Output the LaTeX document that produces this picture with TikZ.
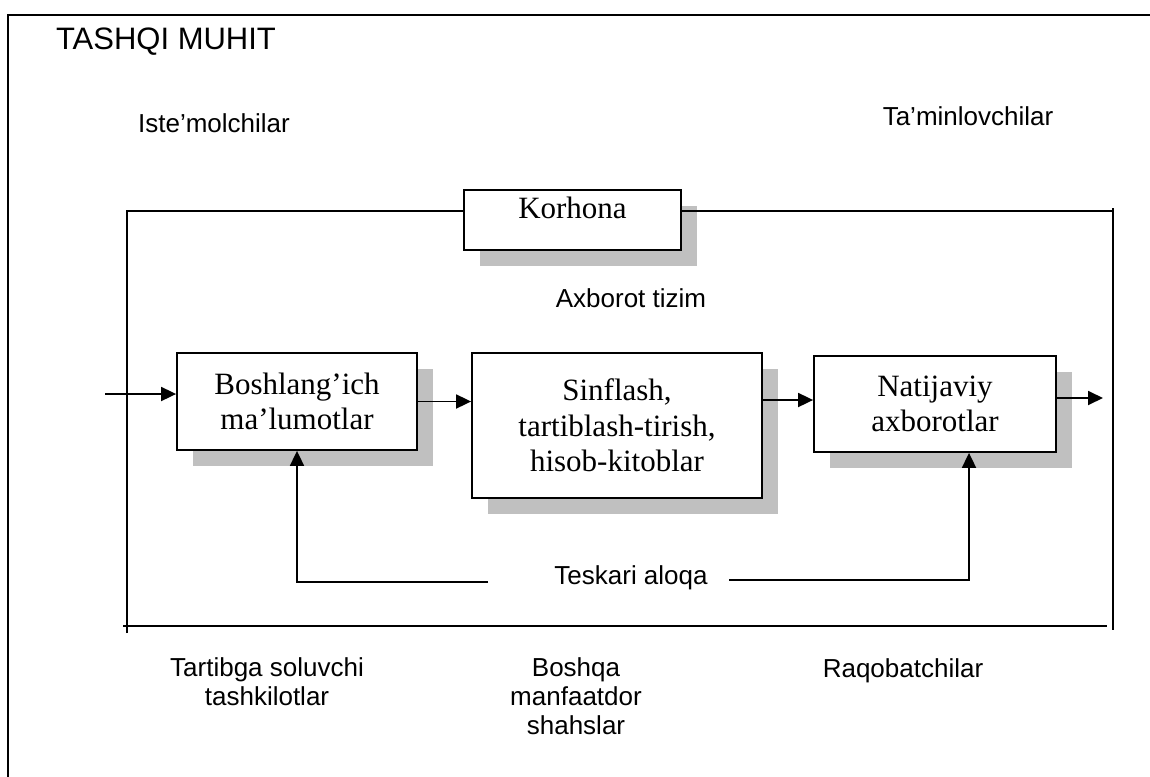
\documentclass[tikz,border=0pt]{standalone}
\usepackage{fontspec}
\setmainfont{Liberation Serif}
\setsansfont{Liberation Sans}
\usetikzlibrary{arrows.meta,shadows}
\definecolor{shadowgray}{RGB}{192,192,192}
\begin{document}
\begin{tikzpicture}[x=1pt,y=-1pt,
  frame/.style={line width=1.8pt},
  conn/.style={line width=1.8pt},
  arr/.style={conn,-{Triangle[length=15pt,width=14pt]}},
  stepbox/.style={draw, line width=1.8pt, fill=white, inner sep=0pt, align=center,
     font=\rmfamily\fontsize{31}{35.5}\selectfont,
     drop shadow={shadow xshift=16pt, shadow yshift=-16pt, fill=shadowgray, opacity=1}},
  lab/.style={font=\sffamily\fontsize{26}{29}\selectfont, align=center, inner sep=0pt},
]
\useasboundingbox (0,0) rectangle (1150,776);

% outer frame of the environment
\draw[frame] (8,790) -- (8,15) -- (1160,15);

% labels of the environment
\node[lab, font=\sffamily\fontsize{31}{36}\selectfont, anchor=base] (title) at (166,49) {TASHQI MUHIT};
\node[lab, anchor=base] (iste) at (214,132) {Iste’molchilar};
\node[lab, anchor=base] (tamin) at (968,125) {Ta’minlovchilar};
\node[lab, anchor=base] (axb) at (631,307) {Axborot tizim};
\node[lab, anchor=base] (tesk) at (631,584) {Teskari aloqa};
\node[lab] (tart) at (267,681.5) {Tartibga soluvchi\\tashkilotlar};
\node[lab] (bosh) at (576,696.5) {Boshqa\\manfaatdor\\shahslar};
\node[lab, anchor=base] (raq) at (903,677) {Raqobatchilar};

% boxes
\node[stepbox, minimum width=217pt, minimum height=60pt, text depth=25pt] (korh) at (572.5,220) {Korhona};
\node[stepbox, minimum width=240pt, minimum height=97pt] (boshl) at (297,401.5) {Boshlang’ich\\ma’lumotlar};
\node[stepbox, minimum width=290pt, minimum height=145pt] (sinf) at (617,425.5) {Sinflash,\\tartiblash-tirish,\\hisob-kitoblar};
\node[stepbox, minimum width=242pt, minimum height=96pt] (natij) at (935,404) {Natijaviy\\axborotlar};

% frame of the enterprise
\coordinate (tl) at (127,211);
\coordinate (tr) at (1113,211);
\draw[frame] (127,633) -- (tl) -- (korh.west |- tl);
\draw[frame] (korh.east |- tr) -- (tr);
\draw[frame] (1113,208) -- (1113,630);
\draw[frame] (123,626) -- (1107,626);

% information flow
\coordinate (in) at (105,394);
\coordinate (m2) at (0,400);
\coordinate (out) at (1103,398);
\draw[arr] (in) -- (in -| boshl.west);
\draw[arr] (boshl.east) -- (boshl.east -| sinf.west);
\draw[arr] (sinf.east |- m2) -- (natij.west |- m2);
\draw[arr] (natij.east |- out) -- (out);

% feedback
\coordinate (fbL) at (488,582);
\coordinate (fbR) at (729,580);
\coordinate (fbRc) at (969,580);
\draw[arr] (fbL) -| (boshl.south);
\draw[arr] (fbR) -- (fbRc) -- (fbRc |- natij.south);
\end{tikzpicture}
\end{document}
